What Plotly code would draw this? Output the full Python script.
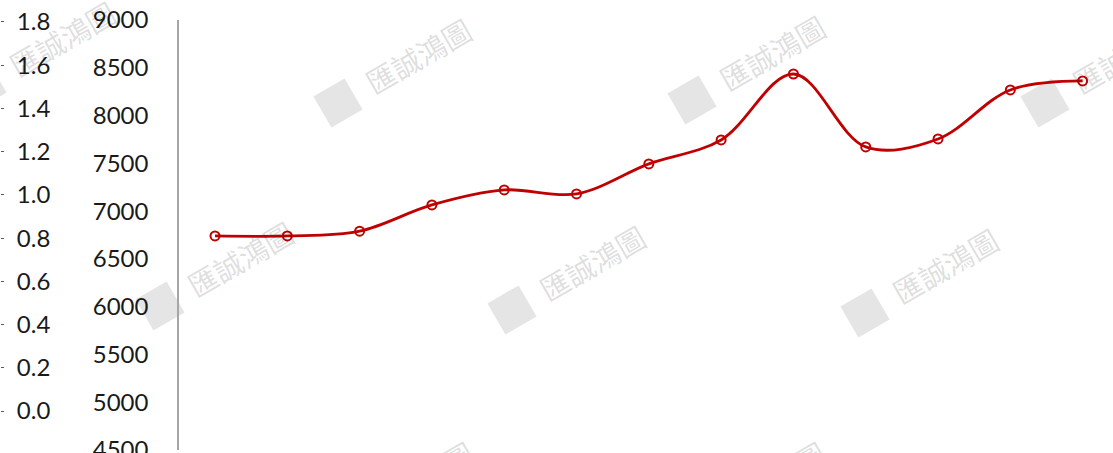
import math
import plotly.graph_objects as go

# Series values (right scale, 4500-9000)
values = [6740, 6740, 6790, 7065, 7222, 7180, 7494, 7745, 8435, 7672, 7755, 8268, 8362]
positions = list(range(len(values)))

# Tick labels of the two vertical scales
left_ticks = [0.0, 0.2, 0.4, 0.6, 0.8, 1.0, 1.2, 1.4, 1.6, 1.8]
right_ticks = [4500, 5000, 5500, 6000, 6500, 7000, 7500, 8000, 8500, 9000]

# Watermark placements (pixel centres of the text)
watermark_text = "匯誠鴻圖"
watermark_xy = [(62, 38), (418, 55), (772, 52), (1125, 55),
                (240, 258), (592, 262), (945, 265),
                (420, 478), (772, 478)]

W, H = 1113, 453
LABEL_FONT = dict(family="Lato, 'Open Sans', sans-serif", size=24, color="#1a1a1a")
ANGLE = -30

fig = go.Figure()

fig.add_trace(go.Scatter(
    x=positions, y=values,
    mode="lines+markers",
    line=dict(color="#c00000", width=2.8, shape="spline", smoothing=1.0),
    marker=dict(symbol="circle-open", size=9, color="#c00000",
                line=dict(color="#c00000", width=2)),
    hoverinfo="skip", showlegend=False,
))

# Empty trace so the secondary scale is drawn
fig.add_trace(go.Scatter(x=[positions[0]], y=[None], yaxis="y2",
                         showlegend=False, hoverinfo="skip"))

annotations = []
shapes = []
a = math.radians(-ANGLE)
for px, py in watermark_xy:
    # translucent so the series line stays visible through it
    annotations.append(dict(
        x=px / W, y=1 - py / H, xref="paper", yref="paper",
        text=watermark_text, showarrow=False, textangle=ANGLE,
        font=dict(family="Noto Sans CJK TC", size=29, color="rgba(0,0,0,0.14)"),
        xanchor="center", yanchor="middle",
    ))
    # rotated square emblem to the lower left of the text
    cx, cy = px - 80, py + 48
    half = 18
    pts = []
    for dx, dy in [(-half, -half), (half, -half), (half, half), (-half, half)]:
        rx = cx + dx * math.cos(a) + dy * math.sin(a)
        ry = cy - dx * math.sin(a) + dy * math.cos(a)
        pts.append((rx / W, 1 - ry / H))
    path = "M " + " L ".join(f"{x:.5f},{y:.5f}" for x, y in pts) + " Z"
    shapes.append(dict(type="path", path=path, xref="paper", yref="paper",
                       fillcolor="#e5e5e5", line=dict(width=0), layer="below"))

fig.update_layout(
    width=W, height=H,
    margin=dict(l=0, r=0, t=0, b=0, pad=0),
    paper_bgcolor="white", plot_bgcolor="rgba(0,0,0,0)",
    xaxis=dict(domain=[179 / W, 1], range=[-0.498, 12.42],
               showgrid=False, zeroline=False, showline=False,
               showticklabels=False, ticks=""),
    yaxis=dict(domain=[3 / H, 1 - 20 / H],
               range=[4500, 9000], tickvals=right_ticks,
               ticktext=[str(v) for v in right_ticks],
               showgrid=False, zeroline=False,
               showline=True, linecolor="#a6a6a6", linewidth=1.5,
               ticks="outside", ticklen=24, tickcolor="rgba(0,0,0,0)",
               ticklabeloverflow="allow",
               tickfont=LABEL_FONT, automargin=False),
    yaxis2=dict(overlaying="y", anchor="free", position=0.0, side="right",
                range=[-0.18, 1.809], tickvals=left_ticks,
                ticktext=[f"{v:.1f}" for v in left_ticks],
                showgrid=False, zeroline=False, showline=False,
                ticks="outside", ticklen=3, tickwidth=1, tickcolor="#595959",
                ticklabelstandoff=8, ticklabeloverflow="allow",
                tickfont=LABEL_FONT, automargin=False),
    annotations=annotations,
    shapes=shapes,
)

fig.write_html("out.html")
